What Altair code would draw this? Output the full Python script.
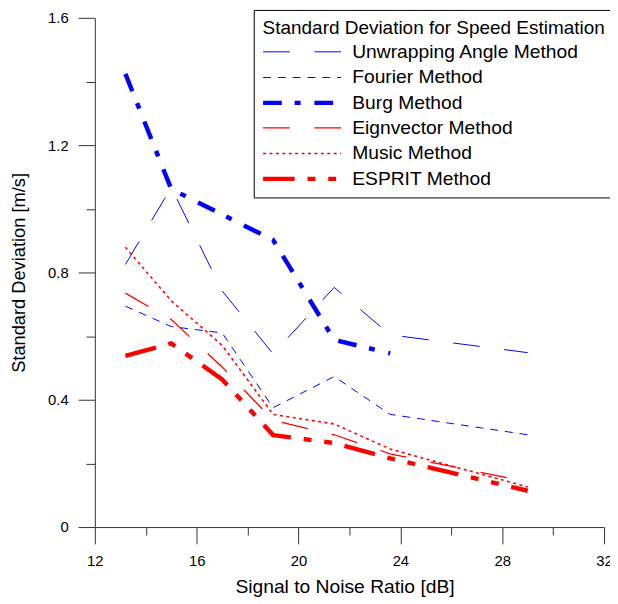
import altair as alt
import pandas as pd

# ---- data ----
snr = [13.2, 15.0, 17.0, 19.0, 21.4, 23.6, 29.0]
methods = ["Unwrapping Angle Method", "Fourier Method", "Burg Method",
           "Eignvector Method", "Music Method", "ESPRIT Method"]
unwrapping = [0.825, 1.067, 0.742, 0.544, 0.753, 0.604, 0.548]
fourier = [0.694, 0.630, 0.610, 0.375, 0.473, 0.354, 0.290]
burg = [1.424, 1.062, 0.982, 0.902, 0.588, 0.546]
eignvector = [0.735, 0.652, 0.503, 0.335, 0.290, 0.230, 0.142]
music = [0.879, 0.711, 0.571, 0.354, 0.324, 0.245, 0.126]
esprit = [0.538, 0.577, 0.464, 0.289, 0.264, 0.216, 0.114]

colors = ["#0000FF", "#0000FF", "#0000FF", "#FF0000", "#FF0000", "#FF0000"]
dashes = [[27, 25], [8, 7], [19, 13, 6, 14], [27, 25], [3, 3.5], [32, 13, 8, 13, 8, 13]]
widths = [1, 1, 4.5, 1.3, 1.6, 4.5]

x_major = [12, 16, 20, 24, 28, 32]
x_minor = [14, 18, 22, 26, 30]
y_major = [0, 0.4, 0.8, 1.2, 1.6]
y_minor = [0.2, 0.6, 1.0, 1.4]

legend_title = "Standard Deviation for Speed Estimation"

series = [unwrapping, fourier, burg, eignvector, music, esprit]
rows = []
for m, vals in zip(methods, series):
    for x, v in zip(snr, vals):
        rows.append({"snr": x, "sd": v, "method": m})
df = pd.DataFrame(rows)

FONT = "Liberation Sans"
xscale = alt.Scale(domain=[12, 32], nice=False, zero=False)
yscale = alt.Scale(domain=[0, 1.6], nice=False, zero=False)

base = alt.Chart(df)

lines = base.mark_line().encode(
    x=alt.X("snr:Q", scale=xscale, axis=alt.Axis(
        orient="bottom", values=x_major, tickSize=17, labelPadding=10,
        labelFontSize=15, labelFont=FONT, labelColor="black", labelFlush=False,
        labelOverlap=False, grid=False, domainColor="#333333", tickColor="#333333",
        title="Signal to Noise Ratio [dB]", titleFont=FONT, titleFontSize=19.5,
        titleFontWeight="normal", titleColor="black", titleX=253, titleY=66,
        titleAlign="center", titleBaseline="alphabetic")),
    y=alt.Y("sd:Q", scale=yscale, axis=alt.Axis(
        orient="left", values=y_major, tickSize=17, labelPadding=10,
        labelFontSize=15, labelFont=FONT, labelColor="black", labelFlush=False,
        labelOverlap=False, grid=False, domainColor="#333333", tickColor="#333333",
        labelExpr="datum.value == 0 ? '0' : format(datum.value, '.1f')",
        title="Standard Deviation [m/s]", titleFont=FONT, titleFontSize=18.5,
        titleFontWeight="normal", titleColor="black", titleX=-67,
        titleBaseline="bottom")),
    color=alt.Color("method:N", scale=alt.Scale(domain=methods, range=colors),
                    legend=alt.Legend(
                        title=legend_title,
                        orient="none", legendX=161, legendY=-8, direction="vertical",
                        symbolType="M-5,0H5", symbolSize=250,
                        symbolOffset=29.5, labelOffset=40.3,
                        titleFont=FONT, titleFontSize=19.2, titleFontWeight="normal",
                        titleColor="black", titleLimit=800, titlePadding=4.5,
                        labelFont=FONT, labelFontSize=19.5, labelColor="black",
                        labelLimit=600, padding=9, rowPadding=5,
                        strokeColor="black", fillColor="white", cornerRadius=0)),
    strokeDash=alt.StrokeDash("method:N", scale=alt.Scale(domain=methods, range=dashes)),
    strokeWidth=alt.StrokeWidth("method:N", scale=alt.Scale(type="ordinal", domain=methods, range=widths)),
)

minor = base.mark_line(opacity=0).encode(
    x=alt.X("snr:Q", scale=xscale, axis=alt.Axis(
        orient="bottom", values=x_minor, tickSize=8, labels=False, domain=False,
        grid=False, tickColor="#333333", title=None)),
    y=alt.Y("sd:Q", scale=yscale, axis=alt.Axis(
        orient="left", values=y_minor, tickSize=9, labels=False, domain=False,
        grid=False, tickColor="#333333", title=None)),
    detail="method:N",
)

chart = alt.layer(lines, minor).resolve_axis(
    x="independent", y="independent"
).properties(
    width=516, height=516,
    autosize=alt.AutoSizeParams(type="none"),
    padding={"left": 88, "top": 6, "right": 6, "bottom": 74},
    background="white",
).configure_view(stroke=None)

chart.save("out.html", embed_options={"renderer": "svg", "actions": False})
